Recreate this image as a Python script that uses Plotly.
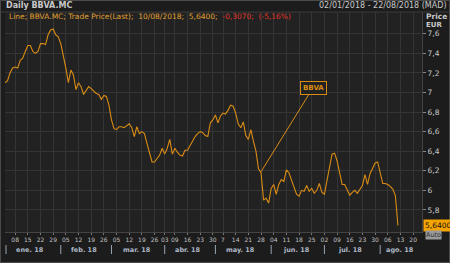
import pandas as pd
import plotly.graph_objects as go

# ---- data ----
holidays = ["2018-01-01", "2018-03-30", "2018-04-02", "2018-05-01"]
dates = [d for d in pd.bdate_range("2018-01-02", "2018-08-10") if d.strftime("%Y-%m-%d") not in holidays]

prices = [
    7.10, 7.12, 7.20, 7.25, 7.26, 7.25, 7.33, 7.35, 7.42, 7.48,
    7.48, 7.42, 7.40, 7.42, 7.50, 7.50, 7.49, 7.59, 7.64, 7.65,
    7.59, 7.57, 7.50, 7.38, 7.25, 7.10, 7.23, 7.18, 7.03, 7.10,
    7.06, 6.98, 7.02, 7.06, 7.04, 7.01, 6.99, 6.98, 6.93, 6.97,
    6.96, 6.87, 6.72, 6.63, 6.62, 6.65, 6.65, 6.64, 6.66, 6.68,
    6.64, 6.55, 6.65, 6.58, 6.60, 6.58, 6.48, 6.37, 6.29, 6.29,
    6.33, 6.36, 6.43, 6.37, 6.43, 6.52, 6.37, 6.43, 6.39, 6.36,
    6.35, 6.41, 6.41, 6.46, 6.50, 6.55, 6.58, 6.60, 6.59, 6.56,
    6.55, 6.69, 6.72, 6.77, 6.69, 6.76, 6.79, 6.78, 6.82, 6.87,
    6.86, 6.79, 6.68, 6.64, 6.70, 6.56, 6.52, 6.62, 6.50, 6.40,
    6.22, 6.18, 5.90, 5.92, 5.87, 6.02, 6.06, 5.96, 6.06, 6.11,
    6.09, 6.21, 6.18, 6.11, 6.02, 5.96, 5.94, 6.00, 5.99, 6.05,
    5.99, 6.02, 5.97, 6.00, 6.07, 5.98, 5.96, 6.09, 6.24, 6.37,
    6.38, 6.30, 6.18, 6.06, 6.06, 6.01, 5.95, 5.98, 6.00, 5.97,
    6.01, 6.05, 6.16, 6.06, 6.17, 6.22, 6.28, 6.29, 6.18, 6.07,
    6.07, 6.06, 6.04, 6.01, 5.947, 5.64,
]

tick_dates = ["2018-01-08", "2018-01-15", "2018-01-22", "2018-01-29", "2018-02-05", "2018-02-12",
              "2018-02-19", "2018-02-26", "2018-03-05", "2018-03-12", "2018-03-19", "2018-03-26",
              "2018-04-03", "2018-04-09", "2018-04-16", "2018-04-23", "2018-04-30", "2018-05-07",
              "2018-05-14", "2018-05-21", "2018-05-28", "2018-06-04", "2018-06-11", "2018-06-18",
              "2018-06-25", "2018-07-02", "2018-07-09", "2018-07-16", "2018-07-23", "2018-07-30",
              "2018-08-06", "2018-08-13", "2018-08-20"]
tick_text = [d[-2:] for d in tick_dates]
tick_text = [t if t not in ("07",) else "7" for t in tick_text]

month_labels = ["ene. 18", "feb. 18", "mar. 18", "abr. 18", "may. 18", "jun. 18", "jul. 18", "ago. 18"]
month_mid = ["2018-01-16", "2018-02-14", "2018-03-15", "2018-04-16", "2018-05-16", "2018-06-15", "2018-07-16", "2018-08-13"]
month_starts = ["2018-02-01", "2018-03-01", "2018-04-03", "2018-05-02", "2018-06-01", "2018-07-02", "2018-08-01"]

ORANGE = "#d98c14"
fig = go.Figure()
fig.add_trace(go.Scatter(x=dates, y=prices, mode="lines",
                         line=dict(color=ORANGE, width=1.1), hoverinfo="skip"))

W, H = 450, 263
ml, mr, mt, mb = 5, 28, 12, 31
pw, ph = W - ml - mr, H - mt - mb

def px(x):
    return (x - ml) / pw

def py(y):
    return (H - mb - y) / ph

anns = []
anns.append(dict(text="<b>Daily BBVA.MC</b>", x=px(4), y=py(6), xref="paper", yref="paper",
                 xanchor="left", yanchor="middle", showarrow=False,
                 font=dict(size=8, color="#c8c8c8")))
anns.append(dict(text="02/01/2018 - 22/08/2018 (MAD)", x=px(449), y=py(6), xref="paper", yref="paper",
                 xanchor="right", yanchor="middle", showarrow=False,
                 font=dict(size=8, color="#c8c8c8")))
anns.append(dict(text="Line; BBVA.MC; Trade Price(Last);  10/08/2018;  5,6400;  "
                      "<span style='color:#e0352a'>-0,3070;  (-5,16%)</span>",
                 x=px(7), y=py(16), xref="paper", yref="paper",
                 xanchor="left", yanchor="middle", showarrow=False,
                 font=dict(size=7.5, color="#e0a030")))
anns.append(dict(text="<b>Price</b>", x=px(424), y=py(16), xref="paper", yref="paper",
                 xanchor="left", yanchor="middle", showarrow=False,
                 font=dict(size=7.5, color="#c8c8c8")))
anns.append(dict(text="<b>EUR</b>", x=px(424), y=py(25), xref="paper", yref="paper",
                 xanchor="left", yanchor="middle", showarrow=False,
                 font=dict(size=7, color="#c8c8c8")))
for lab, d in zip(month_labels, month_mid):
    anns.append(dict(text="<b>" + lab + "</b>", x=d, y=py(250), xref="x", yref="paper",
                     xanchor="center", yanchor="middle", showarrow=False,
                     font=dict(size=6.5, color="#aeb8c8")))
# BBVA callout
anns.append(dict(text="<b>BBVA</b>", x="2018-05-28", y=6.19, xref="x", yref="y",
                 ax=52, ay=-84, showarrow=True, arrowhead=0, arrowwidth=1, arrowcolor=ORANGE,
                 font=dict(size=7, color=ORANGE), bordercolor=ORANGE, borderwidth=1,
                 borderpad=2, bgcolor="#222222"))
# last value label
anns.append(dict(text="5,6400", x=px(423), y=prices[-1], xref="paper", yref="y",
                 xanchor="left", yanchor="middle", showarrow=False,
                 font=dict(size=7.5, color="#111111"), bgcolor="#f5a300", borderpad=1))
anns.append(dict(text="Auto", x=px(425), y=py(235), xref="paper", yref="paper",
                 xanchor="left", yanchor="middle", showarrow=False,
                 font=dict(size=6.5, color="#333333"), bgcolor="#9a9a9a", borderpad=0))

shapes = []
for d in month_starts:
    shapes.append(dict(type="line", xref="x", yref="paper", x0=d, x1=d, y0=py(245), y1=py(254),
                       line=dict(color="#9aa4b4", width=1)))
shapes.append(dict(type="line", xref="paper", yref="paper", x0=px(6), x1=px(6), y0=py(245), y1=py(254),
                   line=dict(color="#9aa4b4", width=1)))
# header separator and outer frame
shapes.append(dict(type="line", xref="paper", yref="paper", x0=px(0), x1=px(450), y0=py(12), y1=py(12),
                   line=dict(color="#3a3a3a", width=1)))
shapes.append(dict(type="rect", xref="paper", yref="paper", x0=px(0.5), x1=px(449.5), y0=py(262.5), y1=py(0.5),
                   line=dict(color="#4a4a4a", width=1)))

fig.update_layout(
    width=W, height=H,
    margin=dict(l=ml, r=mr, t=mt, b=mb),
    paper_bgcolor="#1c1c1c",
    plot_bgcolor="#222222",
    showlegend=False,
    separators=",.",
    annotations=anns,
    shapes=shapes,
    font=dict(family="DejaVu Sans", color="#c8c8c8"),
)
fig.update_xaxes(
    range=["2018-01-01 12:00", "2018-08-23 12:00"],
    rangebreaks=[dict(bounds=["sat", "mon"]), dict(values=holidays)],
    tickvals=tick_dates, ticktext=tick_text, tickangle=0,
    tickfont=dict(size=6, color="#c0c0c0"),
    ticks="outside", ticklen=2, tickcolor="#777777",
    showgrid=True, gridcolor="#353535", gridwidth=1,
    showline=True, linecolor="#444444", zeroline=False,
)
fig.update_yaxes(
    side="right", range=[5.574, 7.823],
    tickvals=[5.8, 6.0, 6.2, 6.4, 6.6, 6.8, 7.0, 7.2, 7.4, 7.6],
    ticktext=["5,8", "6", "6,2", "6,4", "6,6", "6,8", "7", "7,2", "7,4", "7,6"],
    tickfont=dict(size=7.5, color="#c8c8c8"),
    ticks="outside", ticklen=3, tickcolor="#888888",
    showgrid=True, gridcolor="#353535", gridwidth=1,
    showline=True, linecolor="#444444", zeroline=False,
)

fig.write_html("out.html")
